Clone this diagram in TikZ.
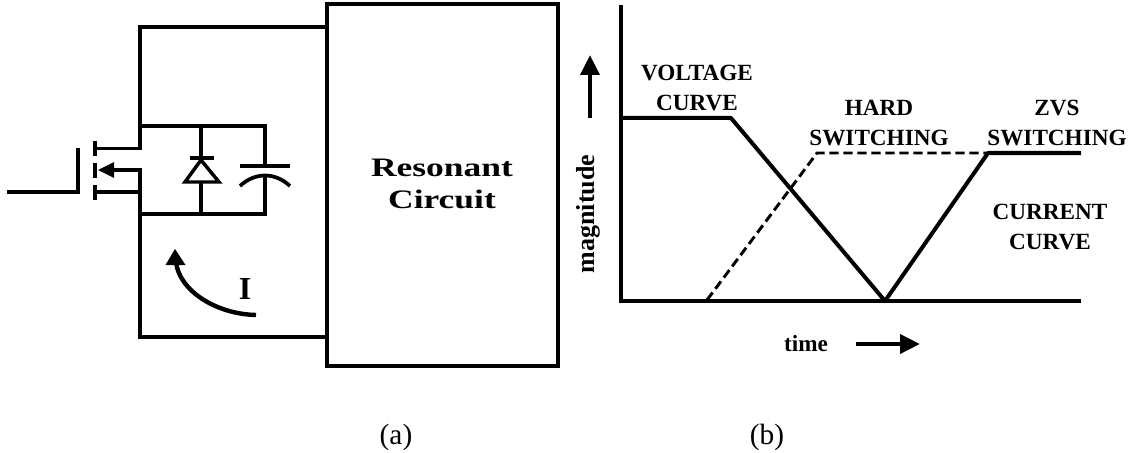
\documentclass[tikz,border=0pt]{standalone}
\usepackage{fontspec}
\setmainfont{Liberation Serif}
\usetikzlibrary{arrows.meta}
\tikzset{
  wire/.style={line width=3.3pt,line cap=butt,line join=miter},
  fet wire/.style={line width=2.8pt,line cap=butt,line join=miter},
  thin wire/.style={line width=2.8pt},
  lab/.style={font=\fontsize{17.4}{23}\selectfont\bfseries,align=center,inner sep=0pt},
  captext/.style={font=\fontsize{22}{25}\selectfont,inner sep=0pt},
  bigarrow/.style={line width=3.4pt,-{Triangle[length=15pt,width=14pt]}}
}
\begin{document}
\begin{tikzpicture}[x=0.75pt,y=-0.75pt]
\useasboundingbox (0,0) rectangle (1129,453);
\node[draw,wire,outer sep=0pt,minimum width=173.25pt,minimum height=271.5pt,anchor=north west,inner sep=0pt] (box) at (327,4) {};
\node[font=\fontsize{20}{24}\selectfont\bfseries,align=center,inner sep=0pt,xscale=1.33] (res) at (442,184) {Resonant\\Circuit};
% wires
\coordinate (d) at (96,148.5); \coordinate (dt) at (140,148.5); \coordinate (tw) at (140,27); \coordinate (tb) at (327,27);
\coordinate (bw) at (140,337); \coordinate (bb) at (327,337);
\coordinate (s) at (96,192); \coordinate (sj) at (140,192); \coordinate (bd) at (140,170); \coordinate (bt) at (98,170);
\draw[wire] (dt) -- (tw) -- (tb);
\draw[fet wire] (d) -- (141.5,148.5);
\draw[wire] (bd) -- (bw) -- (bb);
\draw[fet wire] (s) -- (sj);
\draw[fet wire] (141.5,170) -- (112,170);
\fill (bt) -- (114,162) -- (114,178) -- cycle;
% mosfet
\draw[line width=3.6pt] (95,141) -- (95,156) (95,163) -- (95,178) (95,185) -- (95,200);
\coordinate (gin) at (7,192); \coordinate (gc) at (78,192); \coordinate (gt) at (78,148);
\draw[fet wire] (gin) -- (gc) -- (gt);
% rails
\coordinate (ut) at (140,126); \coordinate (ur) at (265,126); \coordinate (lt) at (140,214); \coordinate (lr) at (265,214);
\draw[thin wire] (ut) -- (ur) -- (265,166);
\draw[thin wire] (lt) -- (lr) -- (265,177);
% diode
\draw[thin wire] (201,126) -- (201,160);
\draw[thin wire] (201,182) -- (201,214);
\draw[thin wire] (190,158) -- (214,158);
\draw[line width=2.6pt,line join=miter] (201,160) -- (219,182) -- (185,182) -- cycle;
% capacitor
\draw[thin wire] (240,166) -- (290,166);
\draw[thin wire] (240,186) .. controls (255,172) and (275,172) .. (290,186);
% current arrow
\coordinate (ia) at (256,315); \coordinate (ib) at (175,249);
\draw[wire] (ia) .. controls (215,314) and (179,290) .. (176,262);
\fill (ib) -- (185.5,265) -- (165.5,265) -- cycle;
\node[font=\fontsize{24}{26}\selectfont\bfseries,inner sep=0pt] (i) at (245,289) {I};
% right graph
\coordinate (o) at (621,301); \coordinate (yt) at (621,5); \coordinate (xe) at (1081,301);
\draw[wire] (yt) -- (o) -- (xe);
\draw[fet wire,line width=3pt,line join=bevel] (621,118) -- (731,118) -- (885,301) -- (988,153) -- (1081,153);
\draw[line width=2.2pt,dash pattern=on 7pt off 3.5pt] (707,300) -- (817,153) -- (988,153);
\draw[bigarrow] (590,118) -- (590,55);
\draw[bigarrow] (856,344) -- (920,344);
\node[lab] (vc) at (697,88) {VOLTAGE\\CURVE};
\node[lab] (hs) at (879,123) {HARD\\SWITCHING};
\node[lab] (zs) at (1057,123) {ZVS\\SWITCHING};
\node[lab] (cc) at (1050,227) {CURRENT\\CURVE};
\node[lab,rotate=90,font=\fontsize{19.5}{22}\selectfont\bfseries] (mag) at (588,214) {magnitude};
\node[lab] (time) at (806,344) {time};
\node[captext] (a) at (396,437) {(a)};
\node[captext] (b) at (767,437) {(b)};
\end{tikzpicture}
\end{document}
